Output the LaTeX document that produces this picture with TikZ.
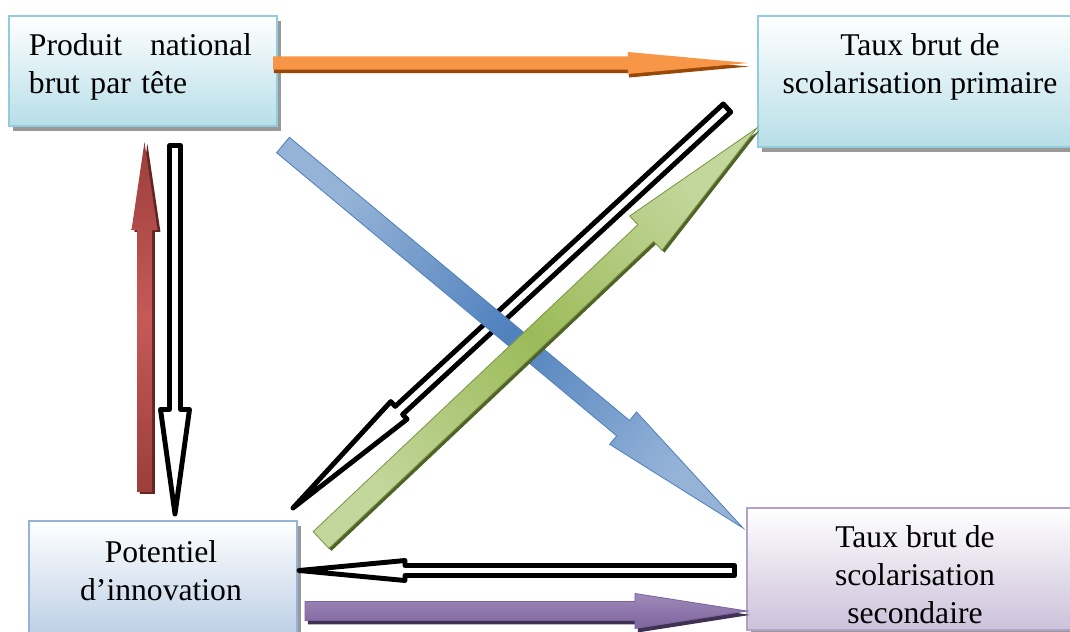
\documentclass[tikz,border=0pt]{standalone}
\usepackage{fontspec}
\setmainfont{Liberation Serif}
\usetikzlibrary{calc,shadows}

\definecolor{tealline}{HTML}{93CDDD}
\definecolor{tealfill}{HTML}{B7DEE8}
\definecolor{blueline}{HTML}{95B3D7}
\definecolor{bluefill}{HTML}{B9CDE5}
\definecolor{lilacline}{HTML}{B3A2C7}
\definecolor{lilacfill}{HTML}{CCC1DA}
\definecolor{orangefill}{HTML}{F79646}
\definecolor{orangedark}{HTML}{984807}
\definecolor{redlight}{HTML}{C55A57}
\definecolor{reddark}{HTML}{9C3E3B}
\definecolor{redshadow}{HTML}{632523}
\definecolor{bluelight}{HTML}{95B3D7}
\definecolor{bluemid}{HTML}{4F81BD}
\definecolor{greenlight}{HTML}{C3D69B}
\definecolor{greenmid}{HTML}{9BBB59}
\definecolor{greendark}{HTML}{4F6228}
\definecolor{purplelight}{HTML}{9F8AB8}
\definecolor{purplemid}{HTML}{7E649E}
\definecolor{purpledark}{HTML}{3F3151}

% block arrow: style, tail, tip, shaft half width, head half width, head length (in px)
\newcommand{\fatarrow}[6]{%
  \coordinate (hb) at ($(#3)!#6*0.7113pt!(#2)$);
  \path[#1] ($(#2)!#4*0.7113pt!90:(#3)$) -- ($(hb)!#4*0.7113pt!90:(#3)$)
    -- ($(hb)!#5*0.7113pt!90:(#3)$) -- (#3)
    -- ($(hb)!#5*0.7113pt!-90:(#3)$) -- ($(hb)!#4*0.7113pt!-90:(#3)$)
    -- ($(#2)!#4*0.7113pt!-90:(#3)$) -- cycle;}

\tikzset{
  box/.style={draw=#1line, line width=1.4pt, top color=white, bottom color=#1fill,
    anchor=north west, inner sep=0pt,
    drop shadow={shadow xshift=2.8pt, shadow yshift=-3.5pt, fill=black!40, opacity=1}},
  boxtext/.style={font=\fontsize{22.5}{27}\selectfont, align=center, inner sep=0pt},
  hollow/.style={draw=black, line width=3.5pt, fill=white, line join=round},
}

\begin{document}
\begin{tikzpicture}[x=0.025cm, y=-0.025cm]
  \useasboundingbox (0,0) rectangle (1070,631);

  % boxes
  \node[box=teal, minimum width=6.7cm, minimum height=2.75cm] (pnb) at (8,15) {};
  \node[box=teal, minimum width=7.925cm, minimum height=3.275cm] (prim) at (757,15) {};
  \node[box=blue, minimum width=6.7cm, minimum height=3cm] (pot) at (28,520) {};
  \node[box=lilac, minimum width=8.2cm, minimum height=3.05cm] (sec) at (746,507) {};

  \node[boxtext, align=left, text width=5.575cm] (pnbtxt) at (140.5,67)
    {Produit\hfill national\\brut par tête};
  \node[boxtext] (primtxt) at (920,67) {Taux brut de\\scolarisation primaire};
  \node[boxtext] (pottxt) at (161,571) {Potentiel\\d’innovation};
  \node[boxtext] (sectxt) at (915,575) {Taux brut de\\scolarisation\\secondaire};

  % arrow ends
  \coordinate (or1) at (273,63);    \coordinate (or2) at (748,63);
  \coordinate (rd1) at (144.5,492); \coordinate (rd2) at (144.5,142);
  \coordinate (bk1) at (175,145.5); \coordinate (bk2) at (175,514);
  \coordinate (bl1) at (283,145);   \coordinate (bl2) at (743,528);
  \coordinate (gr1) at (321,540);   \coordinate (gr2) at (757,128);
  \coordinate (bd1) at (727,108);   \coordinate (bd2) at (293,508);
  \coordinate (bw1) at (734.5,570.5); \coordinate (bw2) at (299,570.5);
  \coordinate (pu1) at (305,611);   \coordinate (pu2) at (747,611);

  % PNB -> primaire
  \fatarrow{fill=orangedark, transform canvas={xshift=0.7pt, yshift=-2.5pt}}{or1}{or2}{6.5}{11}{120}
  \fatarrow{fill=orangefill}{or1}{or2}{6.5}{11}{120}

  % PNB <-> potentiel
  \fatarrow{fill=redshadow, transform canvas={xshift=2.1pt, yshift=-1.4pt}}{rd1}{rd2}{7.5}{13}{88}
  \fatarrow{top color=reddark, bottom color=reddark, middle color=redlight}{rd1}{rd2}{7.5}{13}{88}
  \fatarrow{hollow}{bk1}{bk2}{5.5}{14.5}{104.5}

  % crossing arrows
  \fatarrow{hollow}{bd1}{bd2}{5.5}{12}{144}
  \fatarrow{draw=bluemid, line width=0.6pt, top color=bluelight, bottom color=bluelight,
    middle color=bluemid, shading angle=50}{bl1}{bl2}{10}{21}{156}
  \fatarrow{fill=greendark, transform canvas={xshift=1.8pt, yshift=-1.8pt}}{gr1}{gr2}{11.5}{23.5}{153}
  \fatarrow{draw=greenmid!80!black, line width=0.6pt, top color=greenlight, bottom color=greenlight,
    middle color=greenmid, shading angle=-47}{gr1}{gr2}{11.5}{23.5}{153}

  % secondaire <-> potentiel
  \fatarrow{hollow}{bw1}{bw2}{5}{10}{106}
  \fatarrow{fill=purpledark, transform canvas={xshift=2.1pt, yshift=-2.8pt}}{pu1}{pu2}{9.5}{17.5}{112}
  \fatarrow{draw=purplemid, line width=0.6pt, top color=purplelight, bottom color=purplemid}{pu1}{pu2}{9.5}{17.5}{112}
\end{tikzpicture}
\end{document}
